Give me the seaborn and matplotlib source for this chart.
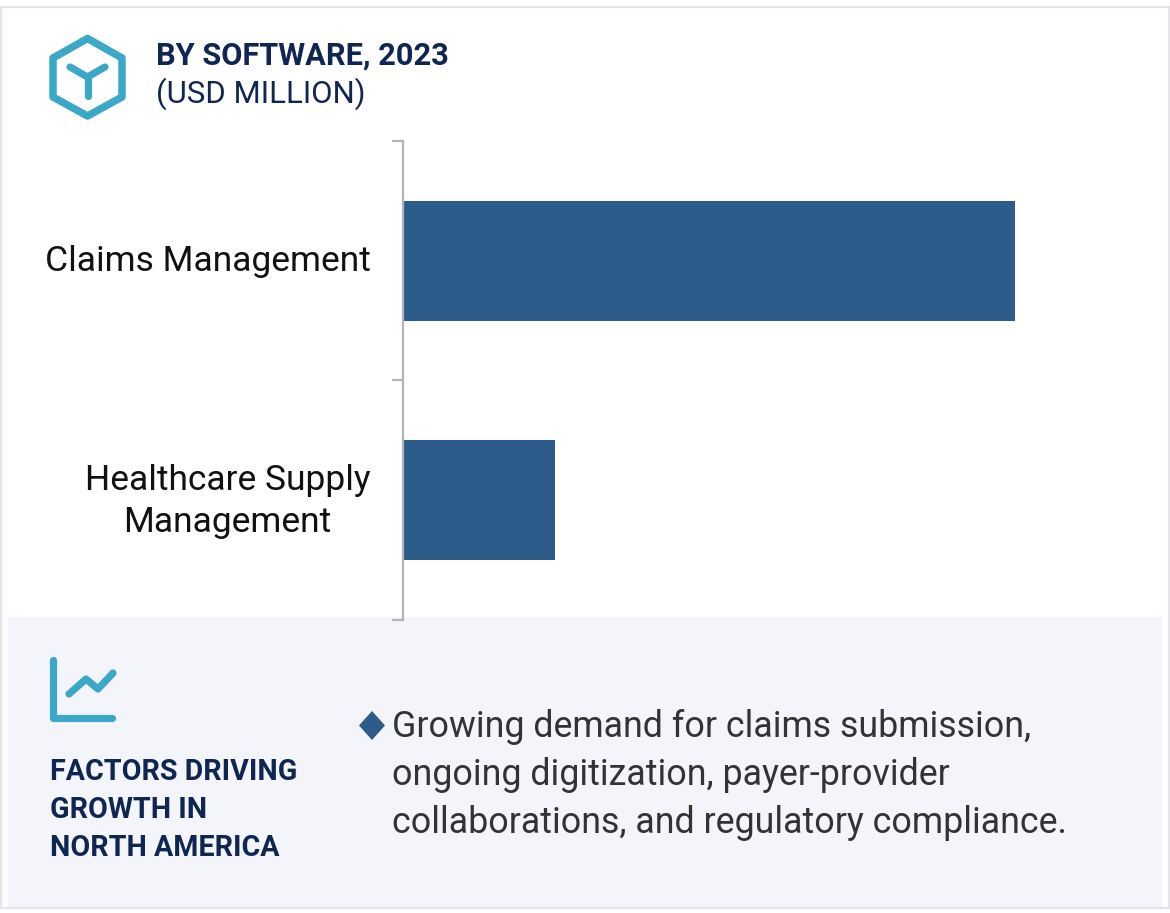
import matplotlib
matplotlib.use("Agg")
import matplotlib.pyplot as plt
from matplotlib.patches import Rectangle, Polygon
from matplotlib.transforms import ScaledTranslation
import pandas as pd
import seaborn as sns

categories = ["Claims Management", "Healthcare Supply\nManagement"]
values = [612, 152]
title_bold = "BY SOFTWARE, 2023"
title_sub = "(USD MILLION)"
factor_title = "FACTORS DRIVING\nGROWTH IN\nNORTH AMERICA"
factor_lines = ["Growing demand for claims submission,",
                "ongoing digitization, payer-provider",
                "collaborations, and regulatory compliance."]

W, H = 1170, 913
NAVY = "#0f2552"
TEAL = "#3aa8c6"
BAR = "#2d5c8a"
GREY = "#b5b5b5"
sns.set_theme(style="white")
plt.rcParams["font.family"] = ["Roboto", "DejaVu Sans"]

fig = plt.figure(figsize=(W / 100, H / 100), dpi=100, facecolor="white")

# page layer in pixel coordinates
bg = fig.add_axes([0, 0, 1, 1], zorder=0)
bg.set_xlim(0, W); bg.set_ylim(H, 0); bg.axis("off")
bg.add_patch(Rectangle((0.5, 7), 1168.5, 901, fc="white", ec="#e4e4ec", lw=1.5))
bg.add_patch(Rectangle((8, 617), 1154, 290, fc="#f4f5fa", ec="none"))

# bar chart
ax = fig.add_axes([402.5 / W, 1 - 620 / H, 759 / W, 479 / H], zorder=1)
ax.patch.set_alpha(0)
df = pd.DataFrame({"segment": categories, "value": values})
sns.barplot(data=df, y="segment", x="value", orient="h", color=BAR, saturation=1,
            width=0.5, ax=ax, edgecolor="none")
ax.set_xlim(0, 759)
ax.set_ylim(1.5, -0.5)
ax.set_xlabel(""); ax.set_ylabel("")
for s in ["top", "right", "bottom"]:
    ax.spines[s].set_visible(False)
ax.spines["left"].set_color(GREY)
ax.spines["left"].set_linewidth(1.6)
ax.set_xticks([])
ax.set_yticks([0, 1])
ax.set_yticks([-0.5, 0.5, 1.5], minor=True)
ax.tick_params(axis="y", which="major", length=0, pad=23, labelsize=25.5, labelcolor="#111111")
ax.tick_params(axis="y", which="minor", left=True, length=8, width=1.6, color=GREY)
for lab, lift_px in zip(ax.get_yticklabels(), [3, 6.5]):
    lab.set_multialignment("center")
    lab.set_linespacing(1.33)
    lab.set_transform(lab.get_transform() + ScaledTranslation(0, lift_px / 100, fig.dpi_scale_trans))

# overlay for texts and icons
fg = fig.add_axes([0, 0, 1, 1], zorder=2)
fg.set_xlim(0, W); fg.set_ylim(H, 0); fg.axis("off")
fg.text(156, 56, title_bold, color=NAVY, fontsize=22.15, fontweight="bold", va="center", ha="left")
fg.text(156, 93.5, title_sub, color=NAVY, fontsize=22.4, va="center", ha="left")

# hexagon icon
fg.add_patch(Polygon([(87.5, 38.5), (122, 58), (122, 97), (87.5, 116), (53, 97), (53, 58)],
                     closed=True, fc="none", ec=TEAL, lw=5.4, joinstyle="round"))
for seg in [[(70, 67), (87.5, 77)], [(105, 67), (87.5, 77)], [(87.5, 77), (87.5, 96)]]:
    fg.plot(*zip(*seg), color=TEAL, lw=5.2, solid_capstyle="round")

# trend icon
fg.plot([52.5, 52.5, 112], [660, 718, 718], color=TEAL, lw=5.2, solid_capstyle="round", solid_joinstyle="round")
fg.plot([69, 86, 98, 113], [694, 679, 689, 673], color=TEAL, lw=5.2, solid_capstyle="round", solid_joinstyle="round")

fg.text(49.5, 810, factor_title, color=NAVY, fontsize=20.6, fontweight="bold", va="center", ha="left", linespacing=1.47)

# bullet
fg.add_patch(Polygon([(372, 711), (385, 725.5), (372, 740), (359, 725.5)], closed=True, fc=BAR, ec="none"))
for y, line in zip([727, 775, 823], factor_lines):
    fg.text(392, y, line, color="#333333", fontsize=25.75, va="center", ha="left")

fig.savefig("out.png", dpi=100)
